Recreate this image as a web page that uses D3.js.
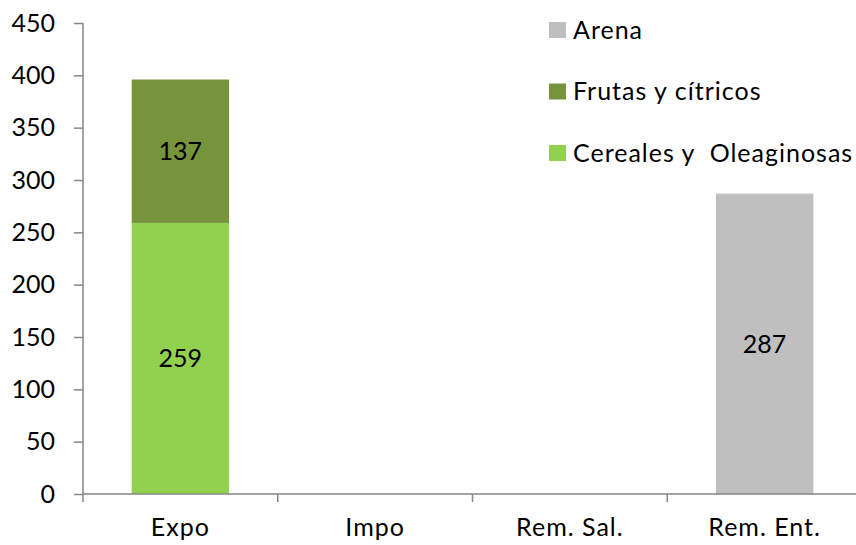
<!DOCTYPE html>
<html>
<head>
    <meta charset="utf-8">
    <script src="https://d3js.org/d3.v7.min.js"></script>
    <style>
        body { margin: 0; background: #fff; }
        svg text { font-family: Lato, "Open Sans", sans-serif; font-size: 25px; fill: #000; }
        svg text.word { letter-spacing: 1px; }
    </style>
</head>
<body>
<svg class="chart"></svg>
<script>
    var categories = ['Expo', 'Impo', 'Rem. Sal.', 'Rem. Ent.'];
    var seriesNames = ['Cereales y  Oleaginosas', 'Frutas y cítricos', 'Arena'];
    var cereales = [259, 0, 0, 0];
    var frutas = [137, 0, 0, 0];
    var arena = [0, 0, 0, 287];
    var yTicks = [0, 50, 100, 150, 200, 250, 300, 350, 400, 450];
    var colors = ['#92d050', '#77933c', '#bfbfbf'];

    var width = 856, height = 545;
    var plotLeft = 83, plotRight = 862, plotTop = 23, plotBottom = 494;

    var svg = d3.select('.chart').attr('width', width).attr('height', height);

    var x = d3.scaleBand().domain(categories).range([plotLeft, plotRight])
        .paddingInner(0.5).paddingOuter(0.25);
    var xGrid = d3.scaleBand().domain(categories).range([plotLeft, plotRight]);
    var y = d3.scaleLinear().domain([0, 450]).range([plotBottom, plotTop]);

    var rows = categories.map(function (c, i) {
        return { cat: c, s0: cereales[i], s1: frutas[i], s2: arena[i] };
    });
    var stack = d3.stack().keys(['s0', 's1', 's2'])(rows);

    var layer = svg.selectAll('.layer').data(stack).enter().append('g')
        .attr('fill', function (d, i) { return colors[i]; });

    layer.selectAll('rect').data(function (d) { return d; }).enter()
        .filter(function (d) { return d[1] > d[0]; })
        .append('rect')
        .attr('x', function (d) { return x(d.data.cat); })
        .attr('width', x.bandwidth())
        .attr('y', function (d) { return y(d[1]); })
        .attr('height', function (d) { return y(d[0]) - y(d[1]); });

    layer.selectAll('text').data(function (d) { return d; }).enter()
        .filter(function (d) { return d[1] > d[0]; })
        .append('text')
        .attr('text-anchor', 'middle')
        .attr('dy', '0.35em')
        .attr('x', function (d) { return x(d.data.cat) + x.bandwidth() / 2; })
        .attr('y', function (d) { return y((d[0] + d[1]) / 2); })
        .text(function (d) { return d[1] - d[0]; });

    // y axis
    var yAxis = svg.append('g').attr('transform', 'translate(' + plotLeft + ',0)')
        .call(d3.axisLeft(y).tickValues(yTicks).tickSize(9).tickPadding(19));
    yAxis.select('.domain').attr('d', 'M0,' + y(450) + 'V' + plotBottom);
    yAxis.selectAll('text').attr('font-size', null).attr('font-family', null).attr('fill', null);

    // x axis, ticks between categories
    var xAxis = svg.append('g').attr('transform', 'translate(0,' + plotBottom + ')');
    xAxis.append('line').attr('x1', plotLeft).attr('x2', plotRight);
    xAxis.selectAll('.tk').data(categories).enter().append('line')
        .attr('x1', function (d) { return xGrid(d); })
        .attr('x2', function (d) { return xGrid(d); })
        .attr('y2', 8);
    xAxis.selectAll('text').data(categories).enter().append('text')
        .attr('class', 'word')
        .attr('text-anchor', 'middle')
        .attr('x', function (d) { return x(d) + x.bandwidth() / 2; })
        .attr('y', 42)
        .text(function (d) { return d; });

    svg.selectAll('.domain, .tick line, g line').attr('stroke', '#868686').attr('stroke-width', 1.5);

    // legend
    var legend = svg.append('g').selectAll('g').data([2, 1, 0]).enter().append('g')
        .attr('transform', function (d, i) { return 'translate(549,' + (30 + i * 61.5) + ')'; });
    legend.append('rect').attr('y', -8).attr('width', 17).attr('height', 16)
        .attr('fill', function (d) { return colors[d]; });
    legend.append('text').attr('class', 'word').attr('x', 24).attr('dy', '0.35em')
        .style('white-space', 'pre')
        .text(function (d) { return seriesNames[d]; });
</script>
</body>
</html>
